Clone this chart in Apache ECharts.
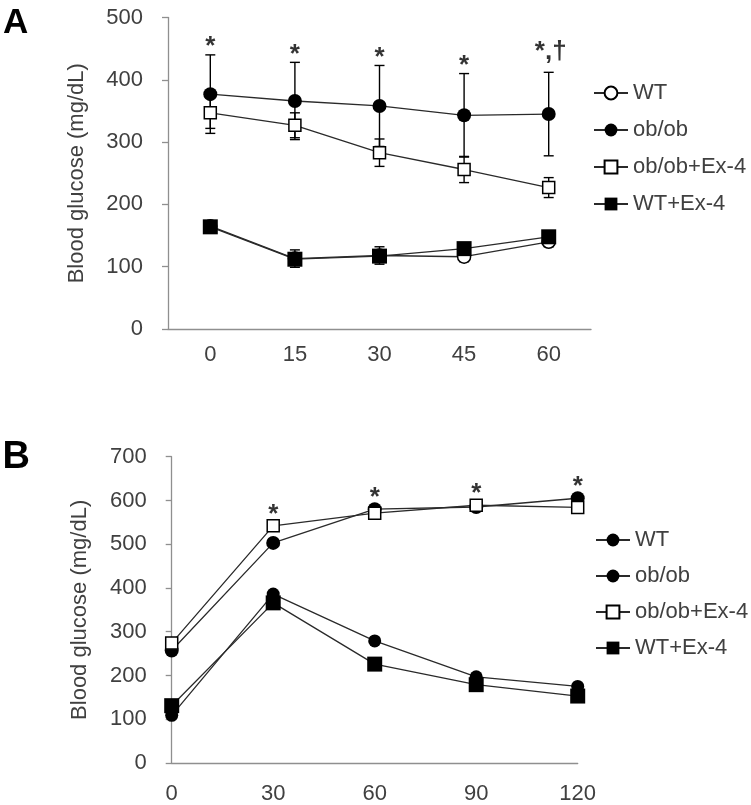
<!DOCTYPE html>
<html><head><meta charset="utf-8">
<script src="https://cdn.jsdelivr.net/npm/echarts@6/dist/echarts.min.js"></script>
<style>html,body{margin:0;padding:0;background:#fff}#c{width:751px;height:805px}</style>
</head><body><div id="c"></div>
<script>
// ---------- data ----------
const groups = ['WT', 'ob/ob', 'ob/ob+Ex-4', 'WT+Ex-4'];

// Panel A (Blood glucose, mg/dL)
const timesA = ['0', '15', '30', '45', '60'];
const wtA = [165, 113, 118, 116, 140];
const wtErrA = [6, 14, 14, 8, 8];
const obA = [377, 366, 358, 343, 345];
const obErrA = [63, 62, 65, 67, 67];
const obExA = [347, 327, 283, 256, 227];
const obExErrA = [25, 20, 22, 21, 16];
const wtExA = [164, 112, 117, 129, 148];
const wtExErrA = [4, 5, 5, 6, 6];
const starsA = ['*', '*', '*', '*', '*,†'];

// Panel B (Blood glucose, mg/dL)
const timesB = ['0', '30', '60', '90', '120'];
const wtB = [109, 386, 279, 197, 175];
const obB = [257, 503, 580, 585, 605];
const obExB = [274, 542, 571, 589, 584];
const wtExB = [131, 366, 226, 179, 153];
const starsB = ['', '*', '*', '*', '*'];

const yNameA = 'Blood glucose (mg/dL)';
const yNameB = 'Blood glucose (mg/dL)';

// ---------- styles ----------
const FONT = '"Liberation Sans", Arial, sans-serif';
const TXT = '#404040';
const AX = '#8f8f8f';
const LINE = '#2a2a2a';

const styles = {
  WT_A: {symbol: 'circle', symbolSize: 13, itemStyle: {color: '#fff', borderColor: '#000', borderWidth: 1.5}},
  WT_B: {symbol: 'circle', symbolSize: 13, itemStyle: {color: '#000', borderColor: '#000', borderWidth: 0}},
  OB: {symbol: 'circle', symbolSize: 14, itemStyle: {color: '#000', borderColor: '#000', borderWidth: 0}},
  OBEX: {symbol: 'rect', symbolSize: 12, itemStyle: {color: '#fff', borderColor: '#000', borderWidth: 1.5}},
  WTEX: {symbol: 'rect', symbolSize: 15, itemStyle: {color: '#000', borderColor: '#000', borderWidth: 0}}
};

function lineSeries(id, grid, vals, st) {
  return Object.assign({
    type: 'line', name: id, xAxisIndex: grid, yAxisIndex: grid,
    data: vals, showSymbol: true, animation: false,
    lineStyle: {color: LINE, width: 1.3},
    emphasis: {disabled: true}, z: 3
  }, st);
}

function errSeries(grid, vals, errs) {
  return {
    type: 'custom', xAxisIndex: grid, yAxisIndex: grid, z: 2, silent: true,
    data: vals.map((v, i) => [i, v, errs[i]]),
    renderItem: function (params, api) {
      const x = api.value(0), y = api.value(1), e = api.value(2);
      const t = api.coord([x, y + e]);
      const b = api.coord([x, y - e]);
      const hw = 5;
      const s = {stroke: '#000', lineWidth: 1.4};
      return {type: 'group', children: [
        {type: 'line', shape: {x1: t[0], y1: t[1], x2: b[0], y2: b[1]}, style: s},
        {type: 'line', shape: {x1: t[0] - hw, y1: t[1], x2: t[0] + hw, y2: t[1]}, style: s},
        {type: 'line', shape: {x1: b[0] - hw, y1: b[1], x2: b[0] + hw, y2: b[1]}, style: s}
      ]};
    }
  };
}

function starSeries(grid, anchors, labels, lift, extra) {
  return {
    type: 'scatter', xAxisIndex: grid, yAxisIndex: grid, symbolSize: 0, z: 5, silent: true,
    data: anchors.map((v, i) => {
      const d = {value: [i, v], label: {formatter: labels[i]}};
      if (extra && extra[i]) d.label.offset = [2, -lift - extra[i]];
      return d;
    }).filter((d, i) => labels[i] !== ''),
    label: {show: true, position: 'inside', offset: [0, -lift], fontSize: 26, fontWeight: 'bold',
      color: '#000', fontFamily: FONT}
  };
}

const nA = groups.map(g => 'A ' + g);
const nB = groups.map(g => 'B ' + g);

const axisCommonY = (min, max, name, gap) => ({
  type: 'value', min: min, max: max, interval: 100,
  name: name, nameLocation: 'middle', nameGap: gap, nameRotate: 90,
  nameTextStyle: {fontSize: 22, color: TXT, fontFamily: FONT},
  axisLine: {show: true, lineStyle: {color: AX, width: 1.3}},
  axisTick: {show: true, inside: false, length: 6, lineStyle: {color: AX, width: 1.3}},
  axisLabel: {fontSize: 22, color: TXT, fontFamily: FONT, margin: 25},
  splitLine: {show: false}
});

const legendCommon = (names, left, top, gap) => ({
  orient: 'vertical', left: left, top: top, data: names, padding: 0,
  itemWidth: 34, itemHeight: 16, itemGap: gap,
  formatter: n => n.slice(2),
  textStyle: {fontSize: 22, color: TXT, fontFamily: FONT},
  selectedMode: false
});

const option = {
  animation: false,
  backgroundColor: '#fff',
  grid: [
    {left: 168, top: 17.5, width: 423, height: 311.5},
    {left: 171.7, top: 456.7, width: 406, height: 310.6}
  ],
  xAxis: [
    {type: 'category', gridIndex: 0, data: timesA, boundaryGap: true,
      axisLine: {lineStyle: {color: AX, width: 1.3}}, axisTick: {show: false},
      axisLabel: {fontSize: 22, color: TXT, fontFamily: FONT, margin: 15}},
    {type: 'category', gridIndex: 1, data: timesB, boundaryGap: false,
      axisLine: {lineStyle: {color: AX, width: 1.3}}, axisTick: {show: false},
      axisLabel: {fontSize: 22, color: TXT, fontFamily: FONT, margin: 20}}
  ],
  yAxis: [
    Object.assign(axisCommonY(0, 500, yNameA, 80), {gridIndex: 0}),
    Object.assign(axisCommonY(0, 700, yNameB, 81), {gridIndex: 1})
  ],
  legend: [legendCommon(nA, 593, 82, 15), legendCommon(nB, 595, 529, 14)],
  graphic: [
    {type: 'text', left: 3, top: 5.5, style: {text: 'A', font: 'bold 35px ' + FONT, fill: '#000'}},
    {type: 'text', left: 2.5, top: 438.3, style: {text: 'B', font: 'bold 38px ' + FONT, fill: '#000'}}
  ],
  series: [
    errSeries(0, wtA, wtErrA),
    errSeries(0, obA, obErrA),
    errSeries(0, wtExA, wtExErrA),
    lineSeries(nA[0], 0, wtA, styles.WT_A),
    lineSeries(nA[1], 0, obA, styles.OB),
    Object.assign(errSeries(0, obExA, obExErrA), {z: 3}),
    lineSeries(nA[2], 0, obExA, Object.assign({z: 4}, styles.OBEX)),
    lineSeries(nA[3], 0, wtExA, Object.assign({z: 4}, styles.WTEX)),
    starSeries(0, obA.map((v, i) => v + obErrA[i]), starsA, 8, [0, 0, 0, 0, 12]),

    lineSeries(nB[0], 1, wtB, styles.WT_B),
    lineSeries(nB[1], 1, obB, styles.OB),
    lineSeries(nB[2], 1, obExB, styles.OBEX),
    lineSeries(nB[3], 1, wtExB, styles.WTEX),
    starSeries(1, obB.map((v, i) => Math.max(v, obExB[i])), starsB, 11)
  ]
};

const chart = echarts.init(document.getElementById('c'), null, {renderer: 'canvas'});
chart.setOption(option);
</script>
</body></html>
